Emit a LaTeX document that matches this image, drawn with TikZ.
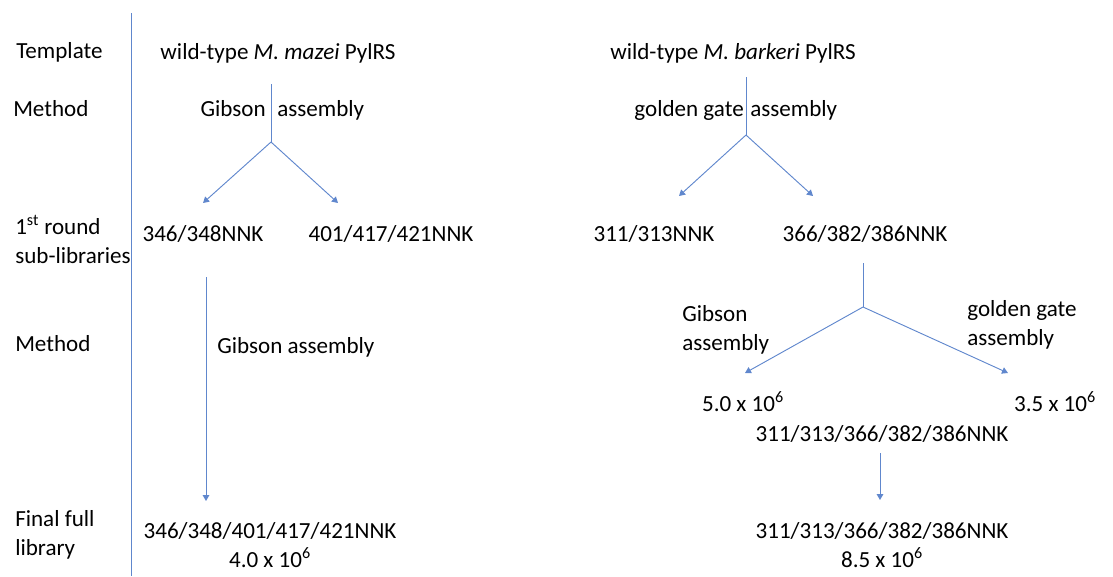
\documentclass[tikz,border=0pt]{standalone}
\usepackage{fontspec}
\setmainfont{Carlito}
\usepackage{xcolor}
\usetikzlibrary{arrows.meta, positioning}
\definecolor{linkblue}{HTML}{4472C4}
\tikzset{
  rowlabel/.style={anchor=base west, align=left, inner sep=0pt, font=\fontsize{17.3}{21.5}\selectfont},
  libtext/.style={anchor=base, align=center, inner sep=0pt, font=\fontsize{17.3}{21.5}\selectfont},
  flowline/.style={draw=linkblue!85, line width=0.7pt},
  flowarrow/.style={flowline, -{Triangle[length=4.5pt, width=5pt]}},
}

\begin{document}
\begin{tikzpicture}[x=0.75pt, y=-0.75pt]
  \useasboundingbox (0,0) rectangle (1113,576);

  % Row labels
  \node[rowlabel] (lbltemplate) at (16,58) {Template};
  \node[rowlabel] (lblmethod) at (13,116) {Method};
  \node[rowlabel] (lblround) at (15,263) {1\textsuperscript{st} round\\sub-libraries};
  \node[rowlabel] (lblmethodb) at (15,351) {Method};
  \node[rowlabel] (lblfinal) at (15,555) {Final full\\library};

  % Separator
  \coordinate (septop) at (131,13);
  \coordinate (sepbot) at (131,576);
  \draw[flowline] (septop) -- (sepbot);

  % M. mazei
  \node[libtext] (mmtemplate) at (278,59) {wild-type \textit{M. mazei} PylRS};
  \node[libtext, anchor=base east] (mmgib) at (266,116) {Gibson};
  \node[libtext, anchor=base west] (mmasm) at (277,116) {assembly};
  \coordinate (mmstem) at (271,84);
  \coordinate (mmsplit) at (271,142);
  \coordinate (mmtipa) at (203,203);
  \coordinate (mmtipb) at (338,203);
  \draw[flowline] (mmstem) -- (mmsplit);
  \draw[flowarrow] (mmsplit) -- (mmtipa);
  \draw[flowarrow] (mmsplit) -- (mmtipb);
  \node[libtext] (mmsuba) at (203,241) {346/348NNK};
  \node[libtext] (mmsubb) at (391,241) {401/417/421NNK};

  \coordinate (mmdown) at (206,277);
  \coordinate (mmtipc) at (206,501);
  \draw[flowarrow] (mmdown) -- (mmtipc);
  \node[libtext, anchor=base west] (mmgibb) at (217,353) {Gibson assembly};
  \node[libtext] (mmfull) at (270,567) {346/348/401/417/421NNK\\4.0 x 10\textsuperscript{6}};

  % M. barkeri
  \node[libtext] (mbtemplate) at (733,59) {wild-type \textit{M. barkeri} PylRS};
  \node[libtext, anchor=base east] (mbgg) at (744,116) {golden gate};
  \node[libtext, anchor=base west] (mbasm) at (750,116) {assembly};
  \coordinate (mbstem) at (746,77);
  \coordinate (mbsplit) at (746,135);
  \coordinate (mbtipa) at (679,196);
  \coordinate (mbtipb) at (813,196);
  \draw[flowline] (mbstem) -- (mbsplit);
  \draw[flowarrow] (mbsplit) -- (mbtipa);
  \draw[flowarrow] (mbsplit) -- (mbtipb);
  \node[libtext] (mbsuba) at (654,241) {311/313NNK};
  \node[libtext] (mbsubb) at (865,241) {366/382/386NNK};

  \coordinate (mbstemb) at (863,263);
  \coordinate (mbsplitb) at (863,307);
  \coordinate (mbtipc) at (745,373);
  \coordinate (mbtipd) at (1008,373);
  \draw[flowline] (mbstemb) -- (mbsplitb);
  \draw[flowarrow] (mbsplitb) -- (mbtipc);
  \draw[flowarrow] (mbsplitb) -- (mbtipd);
  \node[rowlabel] (mbgibb) at (682,350) {Gibson\\assembly};
  \node[rowlabel] (mbggb) at (967,345) {golden gate\\assembly};
  \node[libtext] (mbsizea) at (743,411) {5.0 x 10\textsuperscript{6}};
  \node[libtext] (mbsizeb) at (1055,411) {3.5 x 10\textsuperscript{6}};
  \node[libtext] (mbmerge) at (882,441) {311/313/366/382/386NNK};

  \coordinate (mbdown) at (880,453);
  \coordinate (mbtipe) at (880,500);
  \draw[flowarrow] (mbdown) -- (mbtipe);
  \node[libtext] (mbfull) at (882,567) {311/313/366/382/386NNK\\8.5 x 10\textsuperscript{6}};
\end{tikzpicture}
\end{document}
